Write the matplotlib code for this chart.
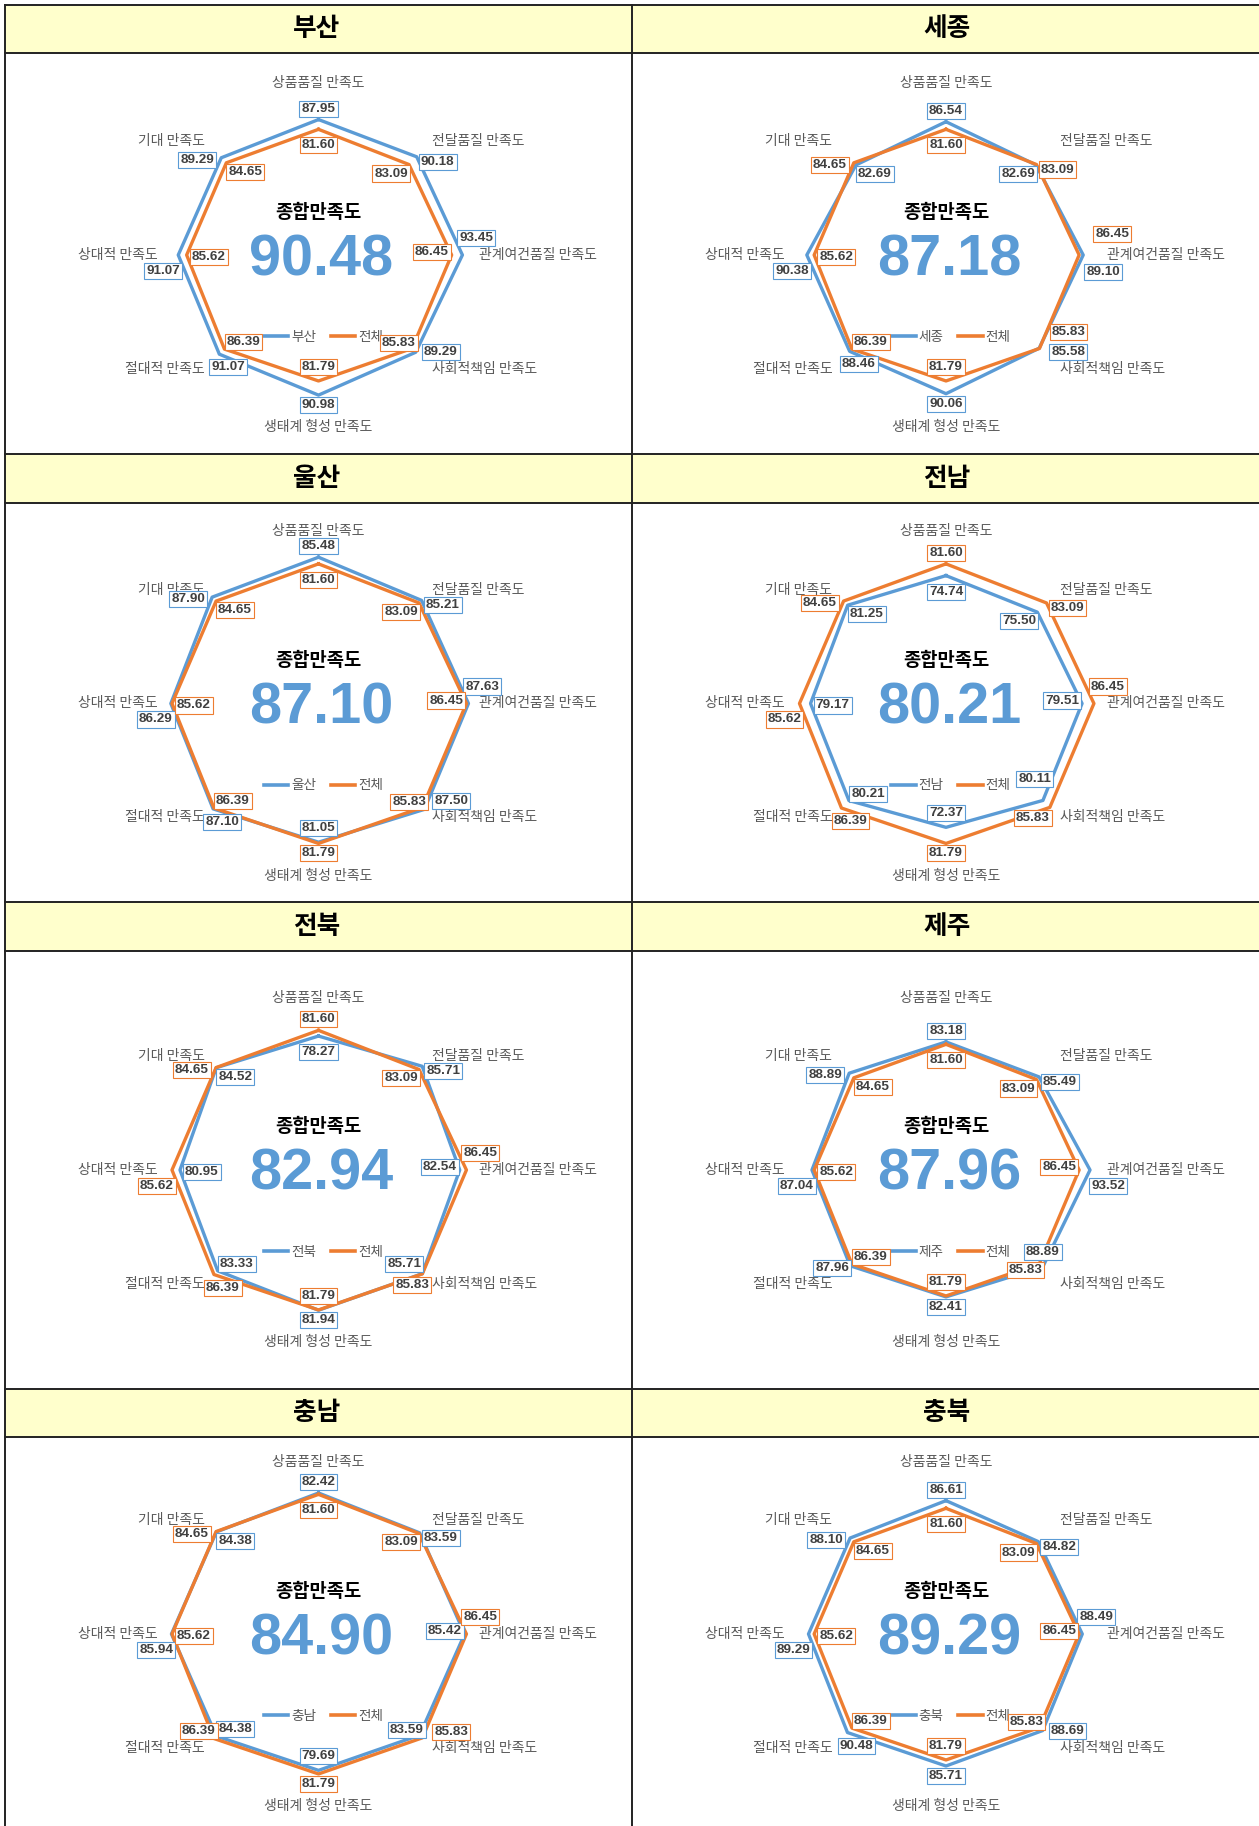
import numpy as np
import matplotlib
matplotlib.use("Agg")
import matplotlib.pyplot as plt
from matplotlib.patches import Rectangle

# 지역별 만족도 (상품품질부터 시계방향)
categories = ["상품품질 만족도", "전달품질 만족도", "관계여건품질 만족도", "사회적책임 만족도",
              "생태계 형성 만족도", "절대적 만족도", "상대적 만족도", "기대 만족도"]
regions = ["부산", "세종", "울산", "전남", "전북", "제주", "충남", "충북"]

total = [81.60, 83.09, 86.45, 85.83, 81.79, 86.39, 85.62, 84.65]

busan = [87.95, 90.18, 93.45, 89.29, 90.98, 91.07, 91.07, 89.29]
sejong = [86.54, 82.69, 89.10, 85.58, 90.06, 88.46, 90.38, 82.69]
ulsan = [85.48, 85.21, 87.63, 87.50, 81.05, 87.10, 86.29, 87.90]
jeonnam = [74.74, 75.50, 79.51, 80.11, 72.37, 80.21, 79.17, 81.25]
jeonbuk = [78.27, 85.71, 82.54, 85.71, 81.94, 83.33, 80.95, 84.52]
jeju = [83.18, 85.49, 93.52, 88.89, 82.41, 87.96, 87.04, 88.89]
chungnam = [82.42, 83.59, 85.42, 83.59, 79.69, 84.38, 85.94, 84.38]
chungbuk = [86.61, 84.82, 88.49, 88.69, 85.71, 90.48, 89.29, 88.10]

overall = [90.48, 87.18, 87.10, 80.21, 82.94, 87.96, 84.90, 89.29]

region_values = [busan, sejong, ulsan, jeonnam, jeonbuk, jeju, chungnam, chungbuk]

BLUE = "#5B9BD5"
ORANGE = "#ED7D31"
KR = ["Noto Sans CJK KR", "DejaVu Sans"]
NUM = "Liberation Sans"

W, H = 1259, 1826
fig = plt.figure(figsize=(W / 100, H / 100), dpi=100)

# 표 배경 (픽셀 좌표)
bg = fig.add_axes([0, 0, 1, 1])
bg.set_xlim(0, W)
bg.set_ylim(H, 0)
bg.axis("off")

col_left = [5, 632.5]
col_right = [632.5, 1265]
header_rows = [(5, 53), (454, 503), (902, 951), (1389, 1437)]
center_x = [318.5, 946]
center_y = [255, 703.5, 1170, 1634]

for top, bot in header_rows:
    bg.add_patch(Rectangle((5, top), W, bot - top, fc="#FFFFCC", ec="none", zorder=0))
for top, bot in header_rows:
    bg.plot([5, W], [top, top], color="#222222", lw=1.4, zorder=1)
    bg.plot([5, W], [bot, bot], color="#222222", lw=1.4, zorder=1)
for x in col_left:
    bg.plot([x, x], [5, H], color="#222222", lw=1.4, zorder=1)

for k, name in enumerate(regions):
    r, c = divmod(k, 2)
    top, bot = header_rows[r]
    bg.text((col_left[c] + col_right[c]) / 2 - 2, (top + bot) / 2, name, ha="center", va="center",
            fontsize=18.5, fontweight="bold", family=KR, color="black")

theta = np.arange(len(categories)) * 2 * np.pi / len(categories)
R = 154  # 반지름(px)

# 라벨 오프셋(px): 바깥쪽 / 안쪽
out_off = [(0, 11), (21, -5), (14, 17), (25, 0), (0, -10), (9, -13), (-15, -16), (-24, -2)]
in_off = [(0, -16), (-18, -9), (-20, 3), (-13, 5), (0, 14), (19, 7), (22, -2), (19, -9)]
# 겹침 피하려고 옮긴 라벨들 (지역, 항목, 계열)
moved = {
    (1, 2, "b"): (20, -17), (1, 2, "o"): (33, 21),
    (1, 3, "b"): (29, -4), (1, 3, "o"): (29, 16),
    (2, 3, "b"): (27, 8),
    (3, 3, "b"): (-8, 21), (3, 3, "o"): (-17, -11),
    (4, 3, "b"): (-18, 10), (4, 3, "o"): (-10, -11),
    (5, 2, "b"): (18, -16),
    (5, 3, "b"): (0, 15), (5, 3, "o"): (-14, -7),
    (5, 5, "b"): (-18, -2),
    (6, 3, "o"): (29, 6),
    (6, 5, "o"): (-15, 8),
}

cat_ha = ["center", "left", "left", "left", "center", "right", "right", "right"]
cat_f = [1.117, 1.045, 1.045, 1.045, 1.117, 1.045, 1.045, 1.045]


def data_label(ax, th, v, color, off):
    ax.annotate(f"{v:.2f}", xy=(th, v), xytext=(off[0] * 0.72, off[1] * 0.72),
                textcoords="offset points", ha="center", va="center",
                fontsize=9.7, fontweight="bold", family=NUM, color="#404040",
                bbox=dict(boxstyle="square,pad=0.15", fc="white", ec=color, lw=0.8),
                zorder=6, annotation_clip=False)


for k, name in enumerate(regions):
    r, c = divmod(k, 2)
    cx, cy = center_x[c], center_y[r]
    ax = fig.add_axes([(cx - R) / W, 1 - (cy + R) / H, 2 * R / W, 2 * R / H], projection="polar")
    ax.set_theta_zero_location("N")
    ax.set_theta_direction(-1)
    vals = region_values[k]
    M = np.ceil(max(vals + total) / 10) * 10
    ax.set_ylim(0, M)
    ax.axis("off")

    th = np.append(theta, theta[0])
    ax.plot(th, vals + vals[:1], color=BLUE, lw=2.4, label=name, zorder=3)
    ax.plot(th, total + total[:1], color=ORANGE, lw=2.4, label="전체", zorder=4)

    for i, cat in enumerate(categories):
        ax.text(theta[i], M * cat_f[i], cat, ha=cat_ha[i], va="center", fontsize=10,
                family=KR, color="#595959")
        if vals[i] > total[i]:
            b_off, o_off = out_off[i], in_off[i]
        else:
            b_off, o_off = in_off[i], out_off[i]
        b_off = moved.get((k, i, "b"), b_off)
        o_off = moved.get((k, i, "o"), o_off)
        data_label(ax, theta[i], vals[i], BLUE, b_off)
        data_label(ax, theta[i], total[i], ORANGE, o_off)

    ax.text(0.5, 0.5 + 43 / (2 * R), "종합만족도", transform=ax.transAxes, ha="center", va="center",
            fontsize=13.5, fontweight="bold", family=KR, color="black")
    ax.text(0.5 + 3 / (2 * R), 0.5 - 5 / (2 * R), f"{overall[k]:.2f}", transform=ax.transAxes,
            ha="center", va="center", fontsize=41.5, fontweight="bold", family=NUM, color=BLUE)

    leg = ax.legend(loc="center", bbox_to_anchor=(0.5 + 5 / (2 * R), 0.5 - 82 / (2 * R)), ncol=2,
                    frameon=False, handlelength=1.8, handletextpad=0.2, columnspacing=1.1,
                    prop=dict(family=KR, size=9.8), labelcolor="#595959")
    for h in leg.get_lines():
        h.set_linewidth(2.6)

fig.savefig("out.png", dpi=100)
